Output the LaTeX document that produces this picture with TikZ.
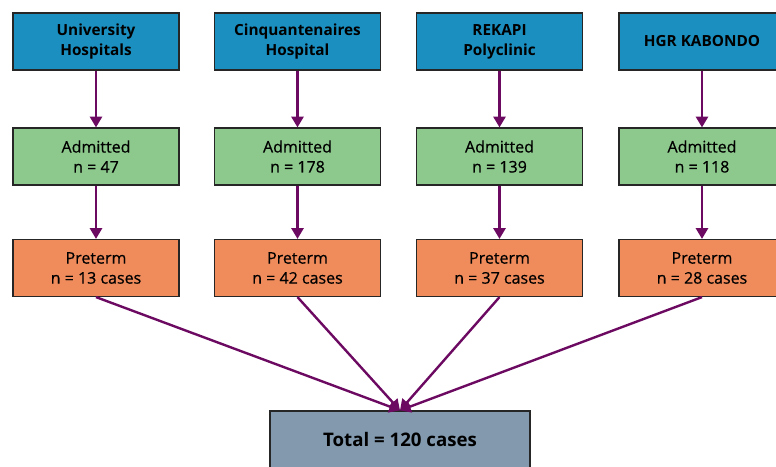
\documentclass[tikz,border=0pt]{standalone}
\usepackage{fontspec}
\setmainfont{Open Sans}
\newfontfamily\medfont[FakeBold=0.6]{Open Sans}
\usetikzlibrary{arrows.meta}
\definecolor{siteblue}{HTML}{1A8FC0}
\definecolor{admgreen}{HTML}{8DC98D}
\definecolor{pretorange}{HTML}{F08C5C}
\definecolor{totalgrey}{HTML}{8299AE}
\definecolor{flowpurple}{HTML}{6C0A62}
\begin{document}
\begin{tikzpicture}[x=0.75pt, y=-0.75pt,
    box/.style={draw=black!85, line width=0.9pt, minimum width=124.5pt, minimum height=42.75pt,
        align=center, font=\fontsize{12}{15}\selectfont\medfont, inner sep=2pt},
    site/.style={box, fill=siteblue, font=\fontsize{11.5}{15}\selectfont\bfseries},
    adm/.style={box, fill=admgreen},
    pret/.style={box, fill=pretorange},
    total/.style={box, fill=totalgrey, minimum width=195pt, font=\fontsize{14}{17}\selectfont\bfseries},
    flow/.style={-{Triangle[length=8pt, width=9pt]}, draw=flowpurple, fill=flowpurple, line width=1.8pt}]
    \useasboundingbox (0,0) rectangle (776,467);

    \node[site] (S1) at (96, 41.5) {University\\Hospitals};
    \node[site] (S2) at (297.5, 41.5) {Cinquantenaires\\Hospital};
    \node[site] (S3) at (499.5, 41.5) {REKAPI\\Polyclinic};
    \node[site] (S4) at (702, 41.5) {HGR KABONDO};

    \node[adm] (A1) at (96, 156.5) {Admitted\\n = 47};
    \node[adm] (A2) at (297.5, 156.5) {Admitted\\n = 178};
    \node[adm] (A3) at (499.5, 156.5) {Admitted\\n = 139};
    \node[adm] (A4) at (702, 156.5) {Admitted\\n = 118};

    \node[pret] (P1) at (96, 268) {Preterm\\n = 13 cases};
    \node[pret] (P2) at (297.5, 268) {Preterm\\n = 42 cases};
    \node[pret] (P3) at (499.5, 268) {Preterm\\n = 37 cases};
    \node[pret] (P4) at (702, 268) {Preterm\\n = 28 cases};

    \node[total] (T) at (400, 439.5) {Total = 120 cases};

    \foreach \i in {1,...,4} {
        \draw[flow] (S\i) -- (A\i);
        \draw[flow] (A\i) -- (P\i);
        \draw[flow] (P\i.south) -- (T.north);
    }
\end{tikzpicture}
\end{document}
